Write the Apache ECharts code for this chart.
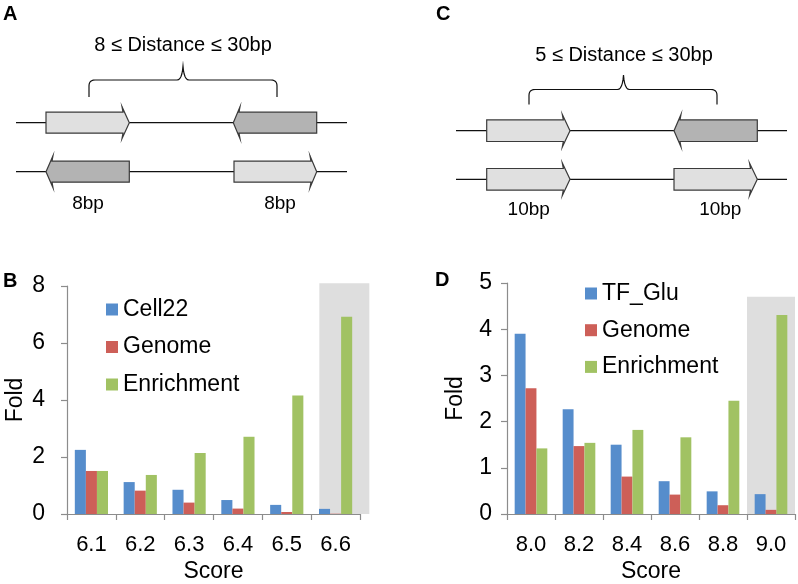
<!DOCTYPE html>
<html>
<head>
<meta charset="utf-8">
<script src="https://cdn.jsdelivr.net/npm/echarts@6/dist/echarts.min.js"></script>
<style>
html,body{margin:0;padding:0;background:#fff;}
#chart{width:798px;height:584px;}
</style>
</head>
<body>
<div id="chart"></div>
<script>
// ---- Data ----
const categoriesB = ['6.1', '6.2', '6.3', '6.4', '6.5', '6.6'];
const cell22 = [2.25, 1.12, 0.85, 0.49, 0.32, 0.18];
const genomeB = [1.51, 0.82, 0.40, 0.19, 0.07, 0.01];
const enrichB = [1.51, 1.37, 2.14, 2.71, 4.16, 6.92];
const shadeB = [null, null, null, null, null, 8.1];

const categoriesD = ['8.0', '8.2', '8.4', '8.6', '8.8', '9.0'];
const tfGlu = [3.90, 2.27, 1.50, 0.71, 0.49, 0.43];
const genomeD = [2.72, 1.47, 0.81, 0.42, 0.19, 0.09];
const enrichD = [1.42, 1.54, 1.82, 1.66, 2.45, 4.31];
const shadeD = [null, null, null, null, null, 4.7];

const legendB = ['Cell22', 'Genome', 'Enrichment'];
const legendD = ['TF_Glu', 'Genome', 'Enrichment'];

// ---- Styles ----
const FONT = 'Liberation Sans, Arial, Helvetica, sans-serif';
const BLUE = '#568dcc', RED = '#cd5f58', GREEN = '#a1c263', SHADE = '#dedede';
const AXIS = '#8c8c8c';

const chart = echarts.init(document.getElementById('chart'), null, {renderer: 'canvas'});

function quad(p0, c, p1, n) {
  const pts = [];
  for (let i = 0; i <= n; i++) {
    const t = i / n;
    pts.push([
      (1 - t) * (1 - t) * p0[0] + 2 * (1 - t) * t * c[0] + t * t * p1[0],
      (1 - t) * (1 - t) * p0[1] + 2 * (1 - t) * t * c[1] + t * t * p1[1]
    ]);
  }
  return pts;
}
function brace(xl, xr, xm, yTop, yEnd, yPeak) {
  const r = 6;
  let pts = [[xl, yEnd], [xl, yTop + r]];
  pts = pts.concat(quad([xl, yTop + r], [xl, yTop], [xl + r, yTop], 6));
  pts.push([xm - 6, yTop]);
  pts = pts.concat(quad([xm - 6, yTop], [xm - 1, yTop], [xm, yPeak], 6));
  pts = pts.concat(quad([xm, yPeak], [xm + 1, yTop], [xm + 6, yTop], 6));
  pts.push([xr - r, yTop]);
  pts = pts.concat(quad([xr - r, yTop], [xr, yTop], [xr, yTop + r], 6));
  pts.push([xr, yEnd]);
  return {type: 'polyline', shape: {points: pts}, style: {stroke: '#111', lineWidth: 1.2, fill: null}, silent: true};
}
function rightArrow(x0, x1, tip, yc, h, fill) {
  const b = 5.5;
  return {type: 'polygon', shape: {points: [
    [x0, yc - h], [x1, yc - h], [x1 - 1, yc - h - b], [tip, yc], [x1 - 1, yc + h + b], [x1, yc + h], [x0, yc + h]
  ]}, style: {fill: fill, stroke: '#3a3a3a', lineWidth: 1.2}, silent: true, z: 10};
}
function leftArrow(tip, x0, x1, yc, h, fill) {
  const b = 5.5;
  return {type: 'polygon', shape: {points: [
    [x1, yc - h], [x0, yc - h], [x0 + 1, yc - h - b], [tip, yc], [x0 + 1, yc + h + b], [x0, yc + h], [x1, yc + h]
  ]}, style: {fill: fill, stroke: '#3a3a3a', lineWidth: 1.2}, silent: true, z: 10};
}
function hline(x1, x2, y) {
  return {type: 'line', shape: {x1: x1, y1: y, x2: x2, y2: y}, style: {stroke: '#111', lineWidth: 1.2}, silent: true, z: 5};
}
function txt(s, x, y, size, bold, align) {
  return {type: 'text', x: x, y: y, style: {text: s, font: (bold ? 'bold ' : '') + size + 'px ' + FONT,
    fill: '#000', align: align || 'center', verticalAlign: 'middle'}, silent: true, z: 20};
}
const LIGHT = '#e0e0e0', DARK = '#b3b3b3';

const graphics = [
  txt('A', 3, 14, 20, true, 'left'),
  txt('C', 436, 14, 20, true, 'left'),
  txt('B', 3, 281, 20, true, 'left'),
  txt('D', 435, 280, 20, true, 'left'),
  txt('8 \u2264 Distance \u2264 30bp', 183, 45, 20, false),
  txt('5 \u2264 Distance \u2264 30bp', 624, 55, 20, false),
  brace(89, 277, 183, 80, 97, 66),
  brace(529, 717, 623.5, 89.5, 104.5, 75),
  hline(16, 347, 122.7),
  rightArrow(46, 123, 129.3, 122.7, 10.5, LIGHT),
  leftArrow(233.3, 239, 316.7, 122.7, 10.5, DARK),
  hline(16, 347, 171.7),
  leftArrow(46, 52, 129.3, 171.7, 10.5, DARK),
  rightArrow(234, 311, 316.7, 171.7, 10.5, LIGHT),
  txt('8bp', 88, 203.3, 19, false),
  txt('8bp', 280, 203.3, 19, false),
  hline(456, 787, 130.7),
  rightArrow(486.7, 563.3, 570, 130.7, 10.8, LIGHT),
  leftArrow(674, 680, 757.3, 130.7, 10.8, DARK),
  hline(456, 787, 179.3),
  rightArrow(486.7, 563.3, 570, 179.3, 10.8, LIGHT),
  rightArrow(674, 750.5, 757.3, 179.3, 10.8, LIGHT),
  txt('10bp', 528.7, 209.3, 19, false),
  txt('10bp', 720.3, 209.3, 19, false)
];

function catAxis(gridIndex, data, hidden) {
  if (hidden) {
    return {type: 'category', gridIndex: gridIndex, data: data, show: false, boundaryGap: true};
  }
  return {
    type: 'category', gridIndex: gridIndex, data: data, boundaryGap: true, z: 5,
    axisLine: {show: true, lineStyle: {color: AXIS, width: 1.2}},
    axisTick: {show: true, alignWithLabel: false, length: 6, lineStyle: {color: AXIS, width: 1.2}},
    axisLabel: {color: '#000', fontSize: 22, fontFamily: FONT, margin: 20},
    name: 'Score', nameLocation: 'middle', nameGap: 46,
    nameTextStyle: {color: '#000', fontSize: 23, fontFamily: FONT}
  };
}
function valAxis(gridIndex, max, interval, margin) {
  return {
    type: 'value', gridIndex: gridIndex, min: 0, max: max, interval: interval,
    splitLine: {show: false},
    axisLine: {show: true, lineStyle: {color: AXIS, width: 1.2}},
    axisTick: {show: true, length: 6, lineStyle: {color: AXIS, width: 1.2}},
    axisLabel: {color: '#000', fontSize: 23, fontFamily: FONT, margin: margin},
    name: 'Fold', nameLocation: 'middle', nameGap: 40, nameRotate: 90,
    nameTextStyle: {color: '#000', fontSize: 23, fontFamily: FONT}
  };
}
function barSeries(name, data, color, xi, yi) {
  return {type: 'bar', name: name, data: data, xAxisIndex: xi, yAxisIndex: yi,
    itemStyle: {color: color}, barGap: '0%', barCategoryGap: '32%', z: 3};
}
function legendCfg(data, left, top, gap) {
  return {data: data, orient: 'vertical', left: left, top: top, icon: 'rect',
    itemWidth: 12, itemHeight: 12, itemGap: gap, selectedMode: false,
    textStyle: {color: '#000', fontSize: 23, fontFamily: FONT, padding: [0, 0, 0, 0]}};
}

const option = {
  animation: false,
  backgroundColor: '#fff',
  textStyle: {fontFamily: FONT},
  grid: [
    {left: 67, top: 286, width: 293, height: 228},
    {left: 507, top: 283, width: 288, height: 231}
  ],
  xAxis: [
    catAxis(0, categoriesB, false),
    catAxis(0, categoriesB, true),
    catAxis(1, categoriesD, false),
    catAxis(1, categoriesD, true)
  ],
  yAxis: [
    valAxis(0, 8, 2, 22),
    valAxis(1, 5, 1, 15)
  ],
  legend: [
    legendCfg(legendB, 101, 293, 14.5),
    legendCfg(legendD, 580, 277, 13.7)
  ],
  series: [
    {type: 'bar', name: 'padB', data: shadeB.map(() => null), xAxisIndex: 1, yAxisIndex: 0, barWidth: 50, z: 1,
      itemStyle: {color: 'rgba(0,0,0,0)'}, silent: true},
    {type: 'bar', name: 'shadeB', data: shadeB, xAxisIndex: 1, yAxisIndex: 0, barWidth: 50, barGap: '-65%', z: 1,
      clip: false, itemStyle: {color: SHADE}, silent: true},
    barSeries('Cell22', cell22, BLUE, 0, 0),
    barSeries('Genome', genomeB, RED, 0, 0),
    barSeries('Enrichment', enrichB, GREEN, 0, 0),
    {type: 'bar', name: 'shadeD', data: shadeD, xAxisIndex: 3, yAxisIndex: 1, barWidth: '100%', z: 1,
      clip: false, itemStyle: {color: SHADE}, silent: true},
    barSeries('TF_Glu', tfGlu, BLUE, 2, 1),
    barSeries('Genome', genomeD, RED, 2, 1),
    barSeries('Enrichment', enrichD, GREEN, 2, 1)
  ],
  graphic: graphics
};
chart.setOption(option);
</script>
</body>
</html>
